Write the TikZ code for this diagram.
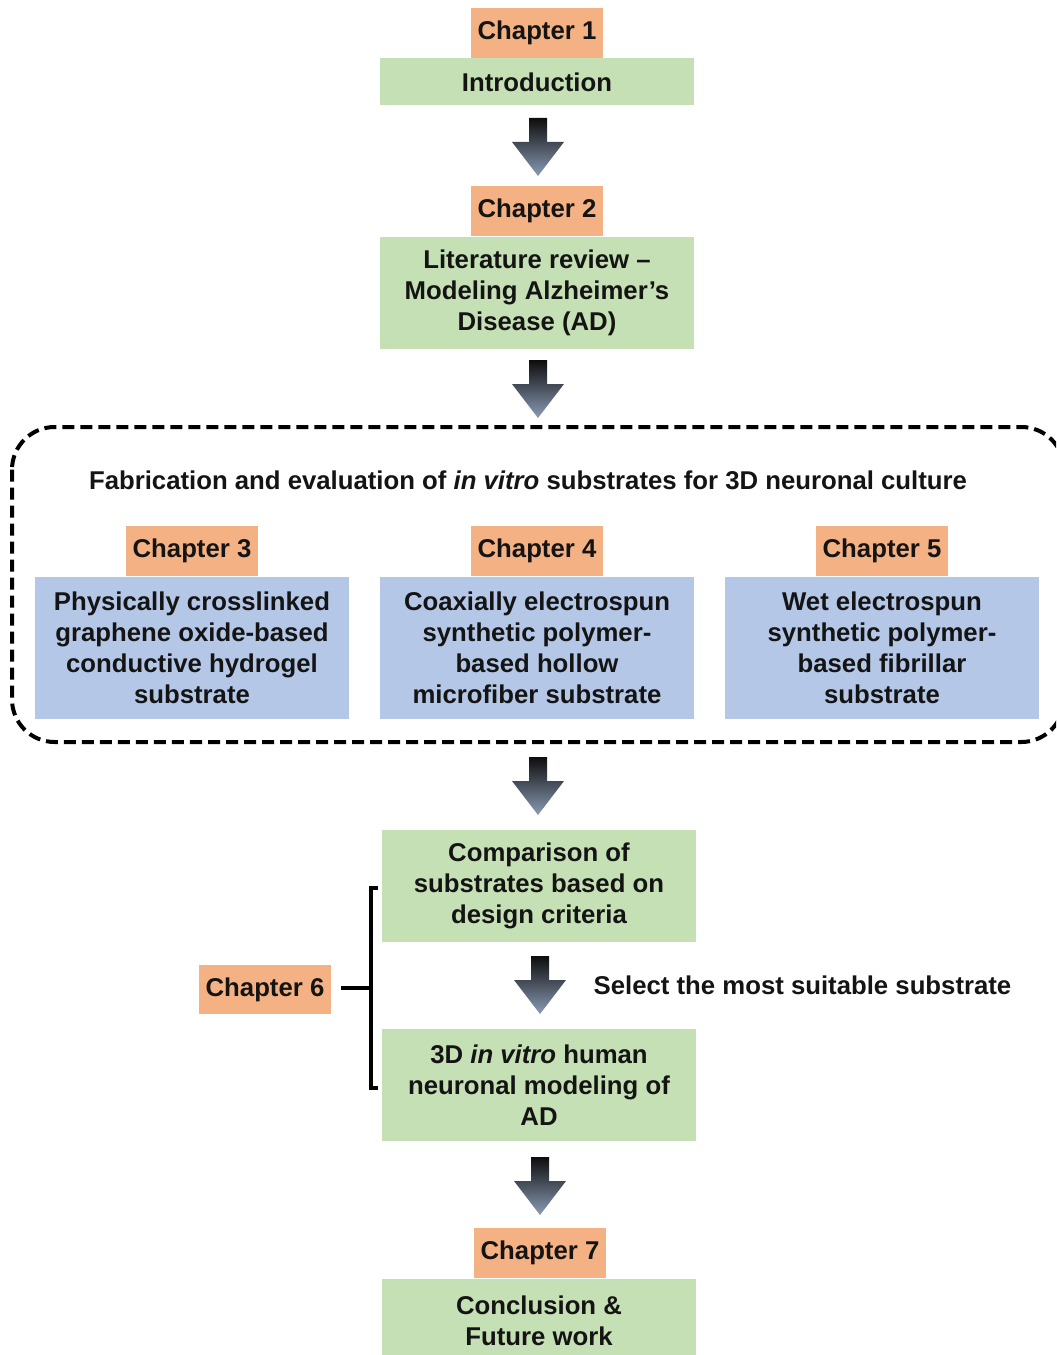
\documentclass[tikz,border=0pt]{standalone}
\usepackage{fontspec}
\setmainfont{Liberation Sans}
\definecolor{orangebox}{HTML}{F4B183}
\definecolor{greenbox}{HTML}{C5E0B4}
\definecolor{bluebox}{HTML}{B4C7E7}
\definecolor{txt}{HTML}{141414}
\definecolor{arrtop}{HTML}{0D0D0D}
\definecolor{arrbot}{HTML}{8A9BB5}
\newcommand{\flowarrow}[2]{% x center, y top (px)
  \shade[top color=arrtop,bottom color=arrbot]
    (#1-9,#2) -- (#1+9,#2) -- (#1+9,#2+24) -- (#1+26,#2+24) -- (#1,#2+58)
    -- (#1-26,#2+24) -- (#1-9,#2+24) -- cycle;}
\begin{document}
\begin{tikzpicture}[x=0.75pt,y=-0.75pt,
  every node/.style={font=\fontsize{19.3}{23.25}\selectfont\bfseries, text=txt},
  chap/.style={fill=orangebox, inner sep=0pt, align=center, minimum width=99pt, minimum height=37.5pt},
  gbox/.style={fill=greenbox, inner sep=0pt, align=center, minimum width=235.5pt},
  bbox/.style={fill=bluebox, inner sep=0pt, align=center, minimum width=235.5pt, minimum height=106.5pt},
  dashedframe/.style={draw=black, line width=3pt, dash pattern=on 9pt off 4.5pt, rounded corners=32pt},
  bracket/.style={draw=black, line width=2.4pt}]
\clip (0,0) rectangle (1056,1355);
\fill[white] (0,0) rectangle (1056,1355);

% Chapter 1
\node[chap] (c1) at (537,33) {Chapter 1};
\node[gbox, minimum height=35.25pt] (intro) at (537,82) {Introduction};
\flowarrow{538}{118}
% Chapter 2
\node[chap] (c2) at (537,211) {Chapter 2};
\node[gbox, minimum height=84pt] (lit) at (537,293) {Literature review –\\Modeling Alzheimer’s\\Disease (AD)};
\flowarrow{538}{360}

% dashed group
\draw[dashedframe] (12,427) rectangle (1064,742);
\node (title) at (528,480) {Fabrication and evaluation of \textit{in vitro} substrates for 3D neuronal culture};

\node[chap] (c3) at (192,551) {Chapter 3};
\node[bbox] (s3) at (192,648) {Physically crosslinked\\graphene oxide-based\\conductive hydrogel\\substrate};
\node[chap] (c4) at (537,551) {Chapter 4};
\node[bbox] (s4) at (537,648) {Coaxially electrospun\\synthetic polymer-\\based hollow\\microfiber substrate};
\node[chap] (c5) at (882,551) {Chapter 5};
\node[bbox] (s5) at (882,648) {Wet electrospun\\synthetic polymer-\\based fibrillar\\substrate};

\flowarrow{538}{757}

% Chapter 6
\node[gbox, minimum height=84pt] (comp) at (539,886) {Comparison of\\substrates based on\\design criteria};
\flowarrow{540}{956}
\node[anchor=west] (sel) at (589,985) {Select the most suitable substrate};
\node[gbox, minimum height=84pt] (model) at (539,1085) {3D \textit{in vitro} human\\neuronal modeling of\\AD};
\node[chap, minimum height=36.75pt] (c6) at (265,989.5) {Chapter 6};
\coordinate (brtop) at (378,888);
\coordinate (brbot) at (378,1088);
\coordinate (brmid) at (371,988);
\draw[bracket] (brtop) -- (371,888) -- (371,1088) -- (brbot);
\draw[bracket] ([xshift=7pt]c6.east |- brmid) -- (brmid);

\flowarrow{540}{1157}
% Chapter 7
\node[chap] (c7) at (540,1253) {Chapter 7};
\node[gbox, minimum height=63pt] (concl) at (539,1321) {Conclusion \&\\Future work};
\end{tikzpicture}
\end{document}
